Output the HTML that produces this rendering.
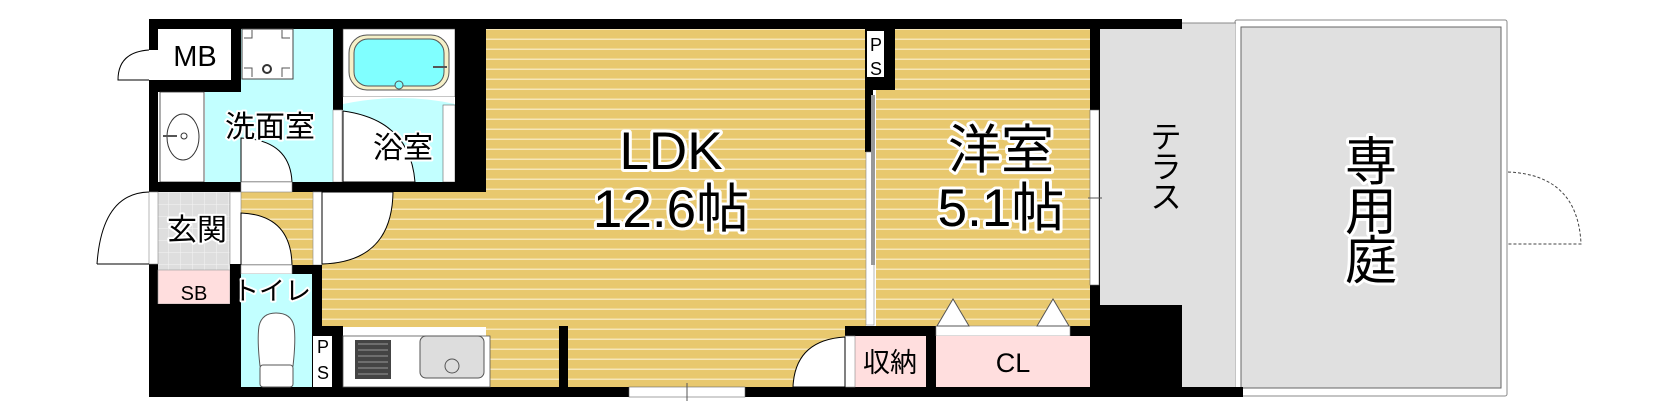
<!DOCTYPE html>
<html><head><meta charset="utf-8"><style>
html,body{margin:0;padding:0;background:#fff;}
svg{display:block}
text{font-family:"Liberation Sans","Noto Sans CJK JP",sans-serif;paint-order:stroke;stroke:#fff;stroke-linejoin:round;fill:#000}
</style></head><body>
<svg width="1658" height="418" viewBox="0 0 1658 418" xmlns="http://www.w3.org/2000/svg">
<defs>
<pattern id="wood" width="10" height="10" patternUnits="userSpaceOnUse">
<rect width="10" height="10" fill="#e8c86e"/><rect y="8.5" width="10" height="1.5" fill="#f6e6b8"/>
</pattern>
<pattern id="tile" width="12" height="12" patternUnits="userSpaceOnUse">
<rect width="12" height="12" fill="#dedede"/><path d="M0 0H12M0 0V12" stroke="#f4f4f4" stroke-width="1"/>
</pattern>
</defs>
<rect x="1235" y="20" width="272" height="376" rx="2" fill="#fff" stroke="#888" stroke-width="1"/>
<rect x="1241" y="27" width="260" height="361" fill="#e0e0e0" stroke="#666" stroke-width="1"/>
<path d="M1508 172 Q1578 175 1581 244 H1508" fill="none" stroke="#444" stroke-dasharray="3,2"/>
<rect x="1100" y="23" width="135" height="364" fill="#e0e0e0"/>
<line x1="1182" y1="23" x2="1236" y2="23" stroke="#888"/>
<rect x="486" y="29" width="380" height="358" fill="url(#wood)"/>
<rect x="322" y="192" width="170" height="135" fill="url(#wood)"/>
<rect x="241" y="192" width="72" height="73" fill="url(#wood)"/>
<rect x="876" y="29" width="214" height="297" fill="url(#wood)"/>
<rect x="241" y="29" width="92" height="153" fill="#c2ffff"/>
<rect x="205" y="92" width="36" height="90" fill="#c2ffff"/>
<rect x="149" y="19" width="1033" height="10" fill="#000"/>
<rect x="149" y="19" width="9" height="378" fill="#000"/>
<rect x="149" y="387" width="1094" height="10" fill="#000"/>
<rect x="158" y="29" width="73" height="51" fill="#fff"/>
<rect x="231" y="29" width="10" height="51" fill="#000"/>
<rect x="149" y="80" width="92" height="12" fill="#000"/>
<rect x="149" y="50" width="9" height="30" fill="#fff"/>
<path d="M149 50 Q118 52 118 80 H149" fill="none" stroke="#000"/>
<rect x="160" y="92" width="44" height="90" fill="#fff" stroke="#333" stroke-width="0.8"/>
<ellipse cx="183" cy="137" rx="16" ry="23" fill="#fff" stroke="#333"/>
<line x1="163" y1="136" x2="177" y2="136" stroke="#555" stroke-width="2"/><circle cx="184" cy="136" r="3" fill="none" stroke="#333"/>
<rect x="242" y="29" width="51" height="50" fill="#fff" stroke="#444"/>
<circle cx="267" cy="69" r="4" fill="#fff" stroke="#333" stroke-width="2"/>
<path d="M244 38h8v-8M290 38h-8v-8M244 68h8v9M290 68h-8v9" fill="none" stroke="#555"/>
<path d="M241 138 Q290 140 292 182 H241Z" fill="#fff" stroke="#000"/>
<rect x="333" y="29" width="10" height="81" fill="#000"/>
<rect x="333" y="110" width="9" height="72" fill="#fff" stroke="#888" stroke-width="0.6"/>
<rect x="343" y="29" width="112" height="153" fill="#c2ffff"/>
<rect x="343" y="29" width="112" height="68" fill="#fff" stroke="#444" stroke-width="0.6"/>
<rect x="349" y="35" width="100" height="55" rx="18" fill="#f5f0c8" stroke="#555"/>
<rect x="354" y="39" width="90" height="47" rx="14" fill="#80ffff" stroke="#555"/>
<circle cx="399" cy="85" r="4" fill="#80ffff" stroke="#555"/>
<line x1="433" y1="67" x2="447" y2="67" stroke="#555" stroke-width="2"/>
<path d="M343 104 Q400 92 455 104 V97 H343Z" fill="#fff"/>
<path d="M343 111 Q410 120 415 182 H343Z" fill="#fff" stroke="#000"/>
<rect x="443" y="105" width="12" height="77" fill="#fff" stroke="#666" stroke-width="0.6"/>
<rect x="455" y="19" width="31" height="173" fill="#000"/>
<rect x="149" y="182" width="337" height="10" fill="#000"/>
<rect x="241" y="182" width="51" height="10" fill="#fff" stroke="#888" stroke-width="0.6"/>
<rect x="158" y="192" width="72" height="78" fill="url(#tile)"/>
<rect x="149" y="192" width="9" height="72" fill="#fff" stroke="#888" stroke-width="0.6"/>
<path d="M149 192 Q102 193 97 264" fill="none" stroke="#000"/>
<line x1="97" y1="264" x2="149" y2="264" stroke="#000"/>
<rect x="230" y="192" width="11" height="73" fill="#fff" stroke="#888" stroke-width="0.6"/>
<path d="M241 213 Q291 215 292 265 H241Z" fill="#fff" stroke="#000"/>
<rect x="313" y="192" width="9" height="73" fill="#fff" stroke="#888" stroke-width="0.6"/>
<path d="M322 192 H393 Q392 262 322 264Z" fill="#fff" stroke="#000"/>
<rect x="158" y="270" width="72" height="34" fill="#ffdede" stroke="#999" stroke-width="0.6"/>
<rect x="149" y="304" width="92" height="83" fill="#000"/>
<rect x="230" y="264" width="11" height="123" fill="#000"/>
<rect x="241" y="265" width="72" height="10" fill="#000"/>
<rect x="241" y="265" width="51" height="9" fill="#fff" stroke="#888" stroke-width="0.6"/>
<rect x="241" y="274" width="71" height="113" fill="#c2ffff"/>
<path d="M260 366 Q257 340 259 326 Q262 313 276 313 Q291 313 294 326 Q296 340 293 366Z" fill="#fff" stroke="#555"/>
<rect x="260" y="365" width="33" height="22" rx="3" fill="#fff" stroke="#555"/>
<rect x="312" y="265" width="10" height="122" fill="#000"/>
<rect x="322" y="326" width="21" height="61" fill="#000"/>
<rect x="313" y="336" width="19" height="51" fill="#fff"/>
<rect x="343" y="336" width="147" height="51" fill="#fff" stroke="#555" stroke-width="0.8"/>
<rect x="355" y="340" width="36" height="39" fill="#444"/>
<path d="M358 344h30M358 350h30M358 356h30M358 362h30M358 368h30M358 374h30" stroke="#999"/>
<rect x="420" y="336" width="64" height="42" rx="6" fill="#ddd" stroke="#555"/>
<circle cx="452" cy="366" r="7" fill="#ddd" stroke="#555"/>
<rect x="559" y="326" width="9" height="61" fill="#000"/>
<rect x="629" y="387" width="116" height="10" fill="#fff" stroke="#666" stroke-width="0.6"/>
<line x1="687" y1="383" x2="687" y2="401" stroke="#555"/>
<rect x="865" y="29" width="30" height="61" fill="#000"/>
<rect x="867" y="31" width="17" height="46" fill="#fff"/>
<rect x="865" y="90" width="8" height="62" fill="#000"/>
<rect x="866" y="152" width="8" height="173" fill="#fff" stroke="#888" stroke-width="0.6"/>
<rect x="871" y="95" width="4" height="170" fill="#999"/>
<rect x="1090" y="19" width="10" height="287" fill="#000"/>
<rect x="1090" y="110" width="9" height="175" fill="#fff" stroke="#666" stroke-width="0.6"/>
<line x1="1088" y1="198" x2="1102" y2="198" stroke="#555"/>
<rect x="1100" y="305" width="82" height="92" fill="#000"/>
<rect x="1090" y="305" width="10" height="92" fill="#000"/>
<rect x="845" y="326" width="245" height="10" fill="#000"/>
<rect x="936" y="326" width="134" height="10" fill="#fff" stroke="#888" stroke-width="0.6"/>
<path d="M937 326 L953 299 L969 326Z M1037 326 L1053 299 L1069 326Z" fill="#fff" stroke="#555"/>
<rect x="855" y="336" width="71" height="51" fill="#ffdede"/>
<rect x="926" y="336" width="10" height="51" fill="#000"/>
<rect x="936" y="336" width="154" height="51" fill="#ffdede"/>
<rect x="845" y="336" width="10" height="51" fill="#fff" stroke="#888" stroke-width="0.6"/>
<path d="M845 337 Q795 340 793 387 H845Z" fill="#fff" stroke="#000"/>
<text x="195" y="66" font-size="29" stroke-width="0" text-anchor="middle">MB</text>
<text x="270" y="137" font-size="30" stroke-width="4" text-anchor="middle">洗面室</text>
<text x="403" y="158" font-size="30" stroke-width="4" text-anchor="middle">浴室</text>
<text x="197" y="240" font-size="30" stroke-width="4" text-anchor="middle">玄関</text>
<text x="194" y="300" font-size="20" stroke-width="0" text-anchor="middle">SB</text>
<text x="272" y="300" font-size="26" stroke-width="4" text-anchor="middle">トイレ</text>
<text x="876" y="51" font-size="18" stroke-width="0" text-anchor="middle">P</text>
<text x="876" y="75" font-size="18" stroke-width="0" text-anchor="middle">S</text>
<text x="323" y="353" font-size="18" stroke-width="0" text-anchor="middle">P</text>
<text x="323" y="379" font-size="18" stroke-width="0" text-anchor="middle">S</text>
<text x="671" y="169" font-size="53" stroke-width="6" text-anchor="middle">LDK</text>
<text x="671" y="227" font-size="53" stroke-width="6" text-anchor="middle">12.6帖</text>
<text x="1001" y="168" font-size="53" stroke-width="6" text-anchor="middle">洋室</text>
<text x="1001" y="226" font-size="53" stroke-width="6" text-anchor="middle">5.1帖</text>
<text x="890" y="372" font-size="27" stroke-width="0" text-anchor="middle">収納</text>
<text x="1013" y="372" font-size="27" stroke-width="0" text-anchor="middle">CL</text>
<text x="1166" y="148" font-size="31" stroke-width="0" text-anchor="middle">テ</text>
<text x="1166" y="178" font-size="31" stroke-width="0" text-anchor="middle">ラ</text>
<text x="1166" y="208" font-size="31" stroke-width="0" text-anchor="middle">ス</text>
<text x="1371" y="180" font-size="52" stroke-width="6" text-anchor="middle">専</text>
<text x="1371" y="230" font-size="52" stroke-width="6" text-anchor="middle">用</text>
<text x="1371" y="279" font-size="52" stroke-width="6" text-anchor="middle">庭</text>
</svg>
</body></html>
